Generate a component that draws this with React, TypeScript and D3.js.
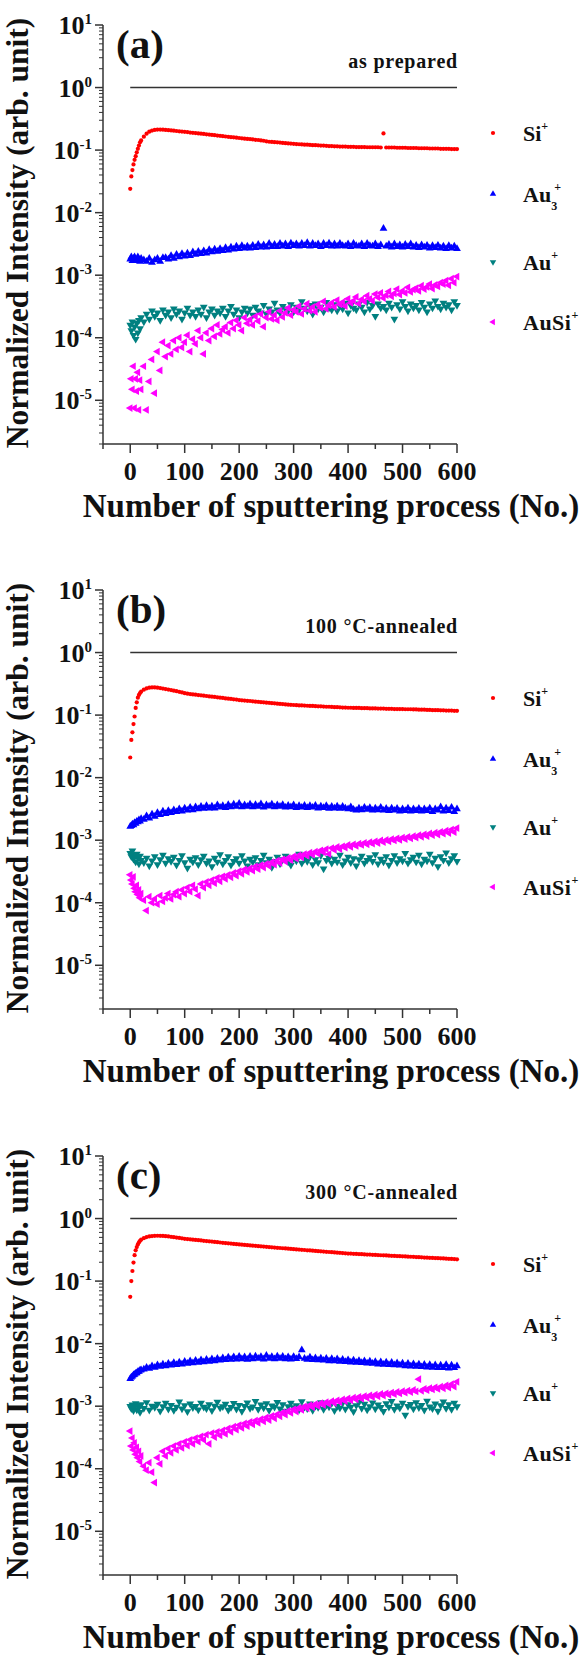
import React from 'react';
import * as d3 from 'd3';

// sampling positions (sputtering process number)
const X_GRID: number[] = [...d3.range(0, 21, 2), ...d3.range(25, 601, 5)];

// ---- Panel (a) as prepared ----
// Si+ in units of 1e-3
const SI_A = [24, 38, 48, 59, 70, 80, 92, 105, 118, 133, 143,
  164, 183, 197, 205, 210, 213, 213, 212, 210, 208,
  206, 204, 202, 200, 198, 196, 194, 191, 189, 187,
  185, 183, 181, 179, 177, 175, 173, 171, 169, 167,
  165, 163, 161, 160, 158, 156, 154, 152, 151, 150,
  148, 146, 145, 143, 141, 138, 136, 135, 134, 133,
  132, 130, 129, 128, 127, 126, 125, 124, 123, 122,
  122, 121, 120, 120, 119, 118, 118, 117, 116, 116,
  115, 115, 114, 114, 114, 113, 113, 113, 112, 112,
  112, 112, 111, 111, 111, 111, 111, 110, 185, 110,
  110, 110, 110, 109, 109, 109, 109, 108, 108, 108,
  108, 107, 107, 107, 107, 106, 106, 106, 106, 105,
  105, 105, 105, 104, 104, 104];
// Au3+ in units of 1e-4
const AU3_A = [18, 19.5, 17, 18.5, 19.5, 17.5, 17, 19.5, 18, 16.5, 18.5,
  17.5, 16.5, 18.5, 16, 17.5, 18.5, 16.5, 19, 19, 18,
  20.5, 18.5, 21.5, 19.5, 22, 20, 22.5, 20.5, 23.5, 21.5,
  24, 22, 24.5, 22.5, 25.5, 23.5, 26, 24, 26.5, 24.5,
  27.5, 25, 28, 26, 29, 26.5, 29.5, 27, 29, 27,
  30, 27.5, 31, 28, 30.5, 28, 32, 28.5, 31, 28.5,
  32, 29, 31.5, 28.5, 32.5, 29.5, 31.5, 29, 32, 29.5,
  33, 29, 32, 29.5, 31.5, 28.5, 32, 29.5, 32.5, 29,
  31.5, 29, 32, 29.5, 29, 31.5, 28.5, 32, 29.5, 29,
  31.5, 28.5, 32, 29.5, 29, 31.5, 28.5, 30.5, 56, 29,
  31, 28, 31.5, 28.5, 30.5, 28, 31, 28.5, 31.5, 28,
  30, 27.5, 30.5, 28, 30, 27, 29.5, 27.5, 30, 27,
  29, 26.5, 29.5, 27, 29, 26.5];
// Au+ in units of 1e-5
const AU_A = [16, 13, 18, 11, 15, 9.5, 17, 12, 19, 14, 21,
  18, 24, 20, 27, 22, 25, 19, 28, 23, 26,
  21, 29, 24, 27, 20, 25, 30, 23, 26, 22,
  28, 24, 31, 21, 26, 29, 23, 27, 25, 30,
  22, 27, 32, 24, 28, 21, 26, 30, 25, 29,
  23, 31, 27, 25, 33, 24, 29, 26, 36, 28,
  25, 32, 29, 27, 34, 26, 31, 28, 38, 30,
  27, 33, 24, 35, 29, 31, 26, 37, 30, 28,
  34, 27, 32, 29, 36, 25, 33, 30, 28, 35,
  31, 26, 37, 29, 33, 22, 35, 30, 32, 28,
  36, 31, 20, 34, 29, 38, 32, 27, 35, 30,
  33, 28, 37, 31, 26, 35, 30, 39, 32, 29,
  36, 31, 34, 28, 38, 33];
// AuSi+ in units of 1e-6
const AUSI_A = [7.5, 22, 15, 35, 7.5, 22, 14, 28, 7, 21, 15,
  35, 7, 20, 45, 13, 60, 30, 85, 50, 75,
  55, 90, 65, 100, 70, 85, 110, 60, 95, 80,
  130, 100, 55, 120, 90, 140, 105, 160, 115, 135,
  150, 120, 175, 140, 190, 160, 130, 210, 170, 195,
  160, 220, 185, 240, 150, 210, 260, 200, 230, 190,
  270, 215, 250, 300, 230, 280, 260, 320, 240, 290,
  350, 270, 310, 260, 340, 300, 380, 290, 330, 360,
  310, 400, 340, 370, 320, 420, 360, 390, 450, 350,
  410, 380, 470, 420, 390, 500, 440, 520, 430, 480,
  550, 460, 510, 600, 490, 560, 520, 640, 540, 590,
  620, 560, 680, 600, 650, 720, 610, 700, 660, 760,
  720, 820, 690, 880, 760, 950];

// ---- Panel (b) 100 °C-annealed ----
const SI_B = [21, 40, 53, 72, 95, 130, 160, 190, 210, 225, 237,
  255, 267, 274, 277, 277, 274, 270, 266, 261, 256,
  251, 246, 241, 236, 230, 224, 220, 217, 214, 212,
  209, 207, 204, 202, 199, 197, 195, 192, 190, 188,
  185, 183, 181, 179, 177, 174, 172, 171, 169, 168,
  166, 164, 163, 161, 160, 158, 157, 155, 154, 152,
  151, 150, 148, 147, 146, 145, 144, 143, 143, 142,
  141, 140, 140, 139, 138, 138, 137, 136, 136, 135,
  134, 134, 133, 132, 132, 131, 131, 130, 130, 130,
  129, 129, 129, 128, 128, 128, 127, 127, 127, 126,
  126, 126, 125, 125, 125, 125, 124, 124, 124, 123,
  123, 122, 122, 122, 121, 121, 120, 120, 120, 119,
  119, 118, 118, 118, 117, 117];
const AU3_B = [16.5, 17, 18, 17.5, 19, 18.5, 20, 19.5, 21, 20, 22,
  21.5, 24.5, 22.5, 26, 24, 27.5, 25.5, 29, 26.5, 29.5,
  27.5, 30.5, 28.5, 31.5, 29, 32.5, 30, 33.5, 30.5, 34,
  31.5, 34.5, 32, 35.5, 32.5, 35, 32.5, 36.5, 33.5, 35.5,
  33, 37, 34, 37.5, 34.5, 38.5, 34, 36.5, 34.5, 37.5,
  34, 37, 34.5, 38, 33.5, 36.5, 35, 37.5, 34, 36.5,
  34.5, 37, 33.5, 36, 34, 36.5, 33, 35.5, 33.5, 36,
  33, 35.5, 33.5, 36, 32.5, 35, 33, 35.5, 32, 34.5,
  32.5, 35, 32, 34.5, 32.5, 31.5, 34, 31, 30, 32.5,
  30.5, 33.5, 31, 33, 30, 32.5, 30.5, 33.5, 30, 32,
  29.5, 32.5, 30, 32, 29, 31.5, 29.5, 32.5, 29, 31.5,
  29.5, 32, 29, 31.5, 29.5, 32.5, 28.5, 31.5, 30, 34,
  29, 32.5, 29.5, 33.5, 28.5, 31.5];
const AU_B = [62, 55, 68, 50, 58, 45, 60, 52, 42, 56, 48,
  44, 52, 39, 47, 55, 41, 49, 58, 43, 51,
  46, 54, 40, 48, 57, 44, 36, 50, 45, 53,
  41, 49, 56, 43, 47, 38, 52, 45, 59, 42,
  48, 55, 40, 46, 51, 43, 57, 47, 39, 50,
  45, 53, 41, 48, 58, 44, 50, 37, 46, 54,
  42, 49, 56, 45, 40, 52, 47, 60, 43, 50,
  46, 55, 41, 49, 44, 57, 35, 48, 52, 43,
  50, 45, 58, 41, 47, 54, 44, 51, 39, 49,
  56, 43, 48, 53, 46, 59, 42, 50, 45, 55,
  40, 48, 57, 44, 51, 47, 62, 43, 49, 54,
  45, 58, 42, 50, 47, 60, 44, 52, 38, 55,
  48, 63, 44, 51, 57, 46];
const AUSI_B = [280, 230, 200, 260, 170, 150, 190, 135, 160, 120, 140,
  110, 75, 125, 100, 115, 95, 130, 105, 120, 140,
  115, 135, 150, 125, 160, 140, 175, 150, 190, 165,
  130, 200, 175, 215, 190, 230, 205, 250, 220, 265,
  240, 280, 255, 300, 270, 320, 290, 340, 310, 355,
  325, 380, 345, 400, 365, 420, 385, 445, 405, 470,
  430, 495, 455, 520, 480, 550, 505, 575, 530, 600,
  560, 630, 585, 655, 610, 690, 640, 720, 600, 750,
  700, 780, 720, 800, 760, 840, 780, 860, 810, 880,
  840, 910, 860, 930, 880, 960, 900, 990, 930, 1010,
  960, 1040, 990, 1070, 1010, 1100, 1040, 1130, 1070, 1160,
  1100, 1200, 1130, 1240, 1160, 1280, 1200, 1320, 1230, 1360,
  1270, 1420, 1300, 1480, 1340, 1560];

// ---- Panel (c) 300 °C-annealed ----
const SI_C = [56, 100, 145, 198, 260, 310, 350, 385, 415, 440, 460,
  485, 505, 518, 525, 529, 531, 530, 527, 523, 518,
  511, 504, 497, 489, 482, 475, 470, 465, 460, 455,
  451, 446, 441, 437, 432, 428, 423, 419, 414, 410,
  406, 402, 398, 393, 389, 385, 382, 378, 375, 372,
  369, 366, 362, 359, 356, 353, 350, 347, 344, 341,
  338, 335, 333, 330, 327, 324, 321, 319, 316, 314,
  311, 309, 306, 304, 301, 299, 297, 294, 292, 290,
  287, 285, 283, 281, 278, 276, 275, 273, 272, 270,
  269, 267, 266, 265, 263, 262, 261, 259, 258, 257,
  255, 254, 253, 251, 250, 249, 248, 246, 245, 244,
  242, 241, 240, 238, 237, 236, 235, 233, 232, 231,
  230, 228, 227, 226, 225, 223];
const AU3_C = [27.5, 29, 30, 31.5, 32, 33.5, 34, 35.5, 36, 37.5, 38,
  39, 41.5, 40, 44, 41.5, 45.5, 43, 47, 44, 48,
  45, 49.5, 46, 50.5, 47, 52, 48, 53, 49, 54,
  50, 55, 51, 56, 52, 57, 53, 58, 54, 59,
  55, 60.5, 56, 61.5, 56.5, 62.5, 57, 61, 56, 62.5,
  57, 63, 58, 62, 56.5, 64.5, 58, 62, 57, 63,
  58, 62.5, 57, 61.5, 56.5, 62, 57.5, 61, 79, 58,
  56, 60.5, 55, 59, 54.5, 58.5, 54, 58, 53, 57.5,
  53, 57, 52, 56, 51.5, 55, 50.5, 54.5, 50, 53.5,
  49.5, 53, 48.5, 52.5, 48, 51.5, 47, 51, 46.5, 50.5,
  46, 50, 45.5, 49, 45, 48.5, 44, 48, 43.5, 47.5,
  43, 47, 42.5, 46.5, 42, 46, 41.5, 45.5, 41, 45,
  41, 46, 40.5, 45, 41, 44];
const AU_C = [100, 92, 105, 85, 98, 110, 88, 102, 95, 80, 106,
  93, 115, 87, 101, 96, 108, 84, 99, 112, 90,
  104, 86, 97, 118, 91, 103, 82, 109, 95, 100,
  88, 113, 97, 92, 106, 85, 101, 117, 94, 99,
  108, 87, 96, 111, 90, 104, 83, 100, 114, 93,
  98, 120, 89, 105, 94, 110, 86, 102, 97, 116,
  91, 106, 84, 99, 113, 95, 103, 88, 119, 97,
  92, 109, 86, 101, 96, 115, 89, 104, 98, 111,
  85, 100, 94, 112, 90, 106, 97, 82, 103, 116,
  93, 108, 88, 99, 114, 91, 105, 96, 83, 110,
  97, 120, 89, 102, 94, 112, 72, 100, 107, 91,
  115, 95, 104, 87, 121, 98, 92, 109, 84, 103,
  118, 93, 106, 89, 113, 99];
const AUSI_C = [400, 230, 310, 200, 260, 170, 220, 150, 190, 130, 160,
  110, 95, 125, 88, 60, 150, 120, 190, 160, 210,
  180, 230, 200, 250, 215, 270, 235, 290, 250, 310,
  270, 330, 290, 350, 250, 370, 320, 390, 340, 410,
  360, 440, 390, 470, 420, 500, 450, 530, 480, 560,
  510, 590, 540, 620, 570, 660, 600, 700, 640, 740,
  690, 790, 730, 840, 780, 890, 820, 940, 870, 990,
  920, 1040, 960, 1080, 1000, 1120, 1040, 1160, 1080, 1200,
  1120, 1240, 1160, 1280, 1200, 1330, 1240, 1370, 1280, 1410,
  1320, 1450, 1360, 1490, 1400, 1530, 1440, 1570, 1480, 1610,
  1520, 1650, 1560, 1690, 1600, 1740, 1640, 1780, 1680, 1820,
  1720, 2700, 1760, 1900, 1800, 1950, 1850, 2000, 1890, 2050,
  1930, 2150, 1980, 2250, 2050, 2450];

const UNITS = { si: 1e-3, au3: 1e-4, au: 1e-5, ausi: 1e-6 };

const PANEL_LABELS = ['(a)', '(b)', '(c)'];
const PANEL_NOTES = ['as prepared', '100 °C-annealed', '300 °C-annealed'];
const X_TICKS = [0, 100, 200, 300, 400, 500, 600];
const X_MINOR = [-50, 50, 150, 250, 350, 450, 550];
const Y_EXPONENTS = [-5, -4, -3, -2, -1, 0, 1];

const PANELS = [
  { label: PANEL_LABELS[0], note: PANEL_NOTES[0], si: SI_A, au3: AU3_A, au: AU_A, ausi: AUSI_A },
  { label: PANEL_LABELS[1], note: PANEL_NOTES[1], si: SI_B, au3: AU3_B, au: AU_B, ausi: AUSI_B },
  { label: PANEL_LABELS[2], note: PANEL_NOTES[2], si: SI_C, au3: AU3_C, au: AU_C, ausi: AUSI_C },
];

const W = 583;
const H = 1658;
const PANEL_TOPS = [0, 565, 1131];
const FONT = '"Liberation Serif", "Times New Roman", Times, serif';
const AXIS = '#333';

const COLORS = { si: '#ff0000', au3: '#0000ff', au: '#008080', ausi: '#ff00ff' };

const triPath = d3.symbol(d3.symbolTriangle, 26)() as string;
const triLegend = d3.symbol(d3.symbolTriangle, 18)() as string;
const circPath = d3.symbol(d3.symbolCircle, 14)() as string;

type Kind = 'si' | 'au3' | 'au' | 'ausi';
const ROT: Record<Kind, number> = { si: 0, au3: 0, au: 180, ausi: -90 };

function Marker({ k, cx, cy, legend }: { k: Kind; cx: number; cy: number; legend?: boolean }) {
  const d = k === 'si' ? circPath : legend ? triLegend : triPath;
  return (
    <path
      d={d}
      transform={`translate(${cx.toFixed(2)},${cy.toFixed(2)})${ROT[k] ? ` rotate(${ROT[k]})` : ''}`}
      fill={COLORS[k]}
    />
  );
}

function Panel({ p, top }: { p: typeof PANELS[0]; top: number }) {
  const x = d3.scaleLinear().domain([-50, 600]).range([103, 457]);
  const y = d3.scaleLog().domain([2e-6, 10]).range([444, 25]);

  const minorY: number[] = [];
  for (let e = -6; e <= 0; e++) {
    for (let k = 2; k <= 9; k++) {
      const v = k * Math.pow(10, e);
      if (v >= 2e-6 * 0.999 && v < 10) minorY.push(v);
    }
  }

  const kinds: Kind[] = ['si', 'au3', 'au', 'ausi'];
  const legendY: Record<Kind, number> = { si: 133, au3: 194, au: 262, ausi: 322 };

  return (
    <g transform={`translate(0,${top})`}>
      {/* reference line at 1 */}
      <line x1={x(0)} x2={x(600)} y1={y(1)} y2={y(1)} stroke={AXIS} strokeWidth={1.5} />

      {/* data */}
      {kinds.map((k) => {
        const arr = p[k] as number[];
        const n = Math.min(arr.length, X_GRID.length);
        const out = [];
        for (let i = 0; i < n; i++) {
          out.push(<Marker key={i} k={k} cx={x(X_GRID[i])} cy={y(arr[i] * UNITS[k])} />);
        }
        return <g key={k}>{out}</g>;
      })}

      {/* axes */}
      <line x1={x(-50)} x2={x(-50)} y1={y(10)} y2={y(2e-6)} stroke={AXIS} strokeWidth={1.5} />
      <line x1={x(-50)} x2={x(600)} y1={y(2e-6)} y2={y(2e-6)} stroke={AXIS} strokeWidth={1.5} />
      {minorY.map((v, i) => (
        <line key={i} x1={x(-50) - 4} x2={x(-50)} y1={y(v)} y2={y(v)} stroke={AXIS} strokeWidth={1} />
      ))}
      {Y_EXPONENTS.map((e) => (
        <g key={e}>
          <line x1={x(-50) - 8} x2={x(-50)} y1={y(Math.pow(10, e))} y2={y(Math.pow(10, e))} stroke={AXIS} strokeWidth={1.5} />
          <text x={92} y={y(Math.pow(10, e)) + 9} textAnchor="end" fontFamily={FONT} fontWeight="bold" fontSize={26} fill="#111">
            10<tspan dy={-10} fontSize={15}>{String(e)}</tspan>
          </text>
        </g>
      ))}
      {X_MINOR.map((v) => (
        <line key={v} x1={x(v)} x2={x(v)} y1={y(2e-6)} y2={y(2e-6) + 5} stroke={AXIS} strokeWidth={1.5} />
      ))}
      {X_TICKS.map((v) => (
        <g key={v}>
          <line x1={x(v)} x2={x(v)} y1={y(2e-6)} y2={y(2e-6) + 9} stroke={AXIS} strokeWidth={1.5} />
          <text x={x(v)} y={480} textAnchor="middle" fontFamily={FONT} fontWeight="bold" fontSize={26} fill="#111">
            {v}
          </text>
        </g>
      ))}

      {/* titles */}
      <text x={331} y={517} textAnchor="middle" fontFamily={FONT} fontWeight="bold" fontSize={33} fill="#111">
        Number of sputtering process (No.)
      </text>
      <text transform={`translate(28,233) rotate(-90)`} textAnchor="middle" fontFamily={FONT} fontWeight="bold" fontSize={31.5} fill="#111">
        Normalized Intensity (arb. unit)
      </text>
      <text x={116} y={58} fontFamily={FONT} fontWeight="bold" fontSize={41} fill="#111">
        {p.label}
      </text>
      <text x={458} y={68} textAnchor="end" fontFamily={FONT} fontWeight="bold" fontSize={20} letterSpacing={0.8} fill="#111">
        {p.note}
      </text>

      {/* legend */}
      {kinds.map((k) => (
        <Marker key={k} k={k} cx={493} cy={legendY[k]} legend />
      ))}
      <text x={523} y={legendY.si + 8} fontFamily={FONT} fontWeight="bold" fontSize={22} fill="#111">
        Si<tspan dy={-11} fontSize={12}>+</tspan>
      </text>
      <text x={523} y={legendY.au3 + 8} fontFamily={FONT} fontWeight="bold" fontSize={22} fill="#111">
        Au<tspan dy={8} fontSize={12}>3</tspan>
        <tspan dx={-3} dy={-19} fontSize={12}>+</tspan>
      </text>
      <text x={523} y={legendY.au + 8} fontFamily={FONT} fontWeight="bold" fontSize={22} fill="#111">
        Au<tspan dy={-11} fontSize={12}>+</tspan>
      </text>
      <text x={523} y={legendY.ausi + 8} fontFamily={FONT} fontWeight="bold" fontSize={22} letterSpacing={0.5} fill="#111">
        AuSi<tspan dy={-11} fontSize={12}>+</tspan>
      </text>
    </g>
  );
}

export default function App() {
  return (
    <svg
      width={W}
      height={H}
      viewBox={`0 0 ${W} ${H}`}
      style={{ position: 'absolute', left: 0, top: 0, background: '#fff' }}
    >
      <rect x={0} y={0} width={W} height={H} fill="#fff" />
      {PANELS.map((p, i) => (
        <Panel key={i} p={p} top={PANEL_TOPS[i]} />
      ))}
    </svg>
  );
}
